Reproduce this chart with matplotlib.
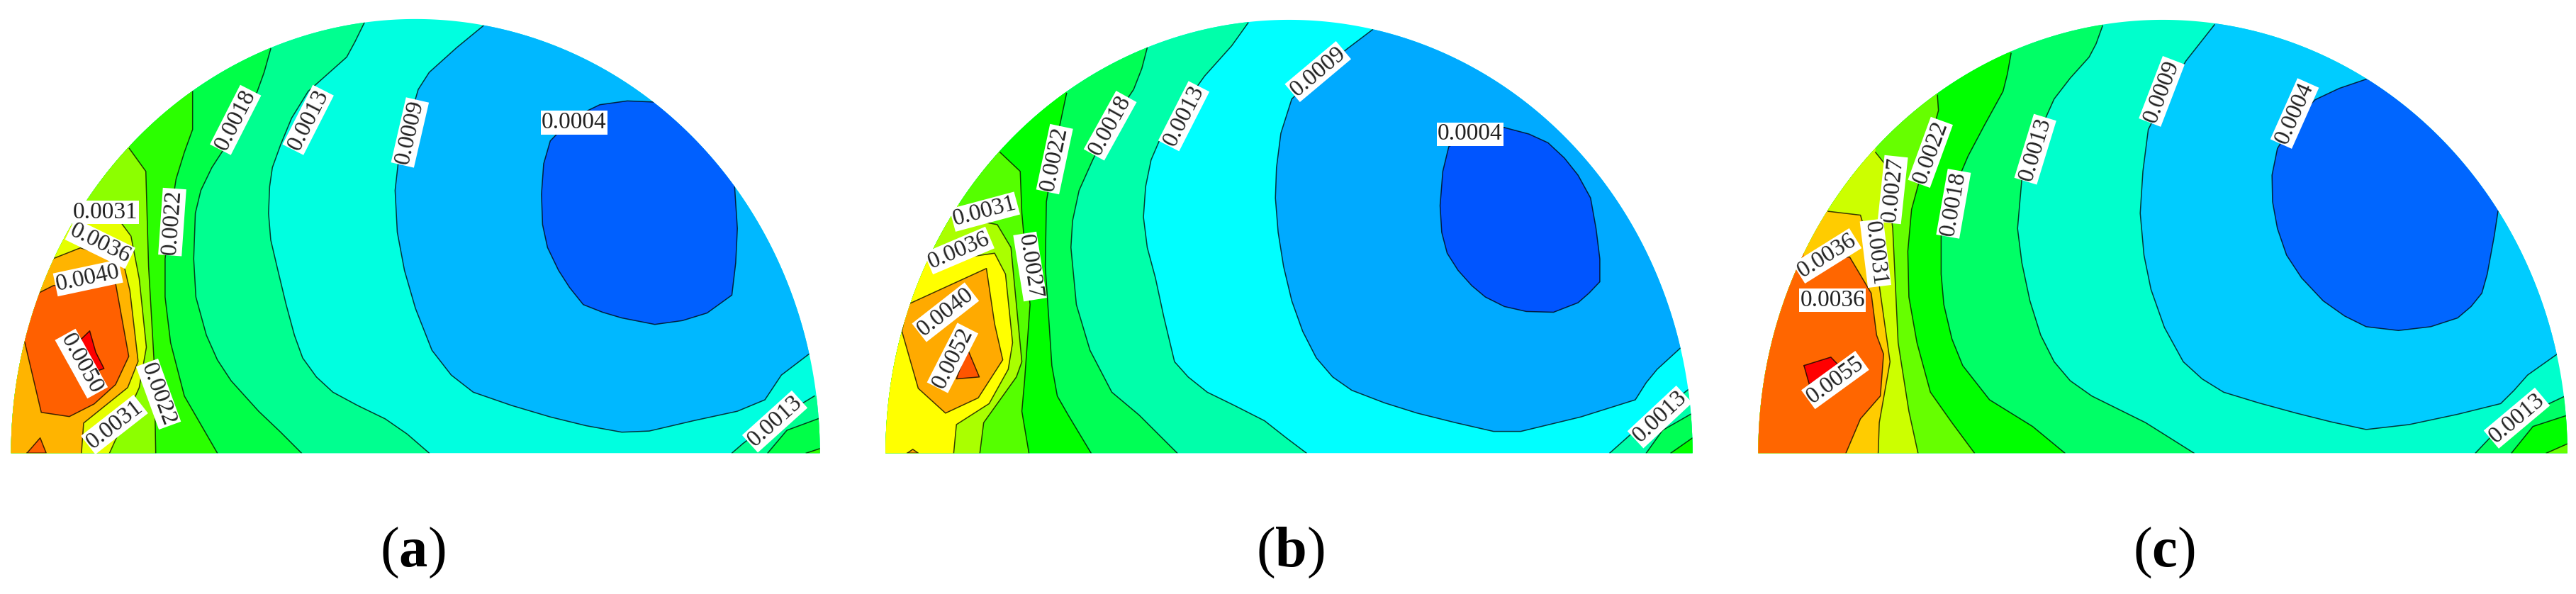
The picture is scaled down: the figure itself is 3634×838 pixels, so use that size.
import numpy as np
import matplotlib
matplotlib.use("Agg")
import matplotlib.pyplot as plt
from matplotlib.patches import Polygon

W, H = 3634, 838
plt.rcParams['font.family'] = ['Liberation Serif', 'DejaVu Sans']
plt.rcParams['mathtext.fontset'] = 'custom'
plt.rcParams['mathtext.bf'] = 'Liberation Serif:bold'

# ---- panel a: contour lines, top/edge -> baseline
a_0013 = [(662,60),(645,110),(630,150),(595,195),(560,240),(530,310),(510,380),(495,440),(490,490),(488,560),(492,630),(505,710),(520,800),(535,880),(550,940),(575,990),(605,1030),(650,1065),(700,1100),(740,1140),(780,1190)]
a_0018 = [(492,128),(480,190),(465,250),(430,340),(385,440),(365,500),(355,560),(352,680),(356,780),(375,880),(395,945),(420,1000),(470,1080),(510,1135),(548,1190)]
a_0022 = [(350,240),(350,340),(335,400),(320,470),(308,580),(300,680),(300,780),(310,900),(335,1040),(395,1190)]
a_0027 = [(235,390),(265,450),(270,700),(280,950),(283,1190)]
a_0031 = [(130,575),(219,583),(238,620),(253,732),(266,912),(253,1018),(199,1190)]
a_0036 = [(97,679),(146,651),(223,683),(236,763),(251,949),(232,1018),(152,1111),(148,1190)]
a_0040 = [(45,899),(75,1083),(126,1094),(171,1061),(210,1010),(234,936),(210,744),(97,750),(71,769)]
a_0009 = [(878,68),(830,125),(780,190),(760,235),(745,310),(725,410),(718,500),(722,610),(735,710),(755,810),(785,920),(820,985),(860,1030),(930,1065),(1000,1095),(1065,1118),(1130,1135),(1180,1132),(1260,1105),(1340,1080),(1390,1050),(1420,985),(1470,930)]
a_0004 = [(1190,268),(1140,265),(1090,275),(1040,310),(1000,370),(988,430),(984,510),(986,590),(995,650),(1015,710),(1035,755),(1060,800),(1095,820),(1130,835),(1190,852),(1240,842),(1285,822),(1330,775),(1337,690),(1340,600),(1335,490)]
a_low = [[(1330,1190),(1350,1165),(1400,1110),(1480,1040)], [(1395,1190),(1430,1130),(1490,1098)], [(1465,1190),(1490,1178)]]
a_spots = [[(49,1190),(73,1150),(84,1190)], [(148,890),(163,869),(174,925),(189,968),(139,992),(125,955)]]
a_left = [a_0013, a_0018, a_0022, a_0027, a_0031, a_0036]
a_colors = ['#00ffe0', '#00b8ff', '#0060ff', '#00ff90', '#00ff48', '#2bff00', '#8cff00', '#e6ff00', '#ffb400', '#ff6000']
a_spot_colors = ['#ff6000', '#ff0000']
a_texts = ['0.0004', '0.0009', '0.0013', '0.0018', '0.0022', '0.0031', '0.0036', '0.0040', '0.0050', '0.0022', '0.0031', '0.0013']
a_tx = [1043, 745, 560, 428, 313, 192, 182, 160, 148, 288, 208, 1408]
a_ty = [322, 348, 315, 315, 583, 558, 640, 730, 955, 1035, 1115, 1107]
a_rot = [0, 77, 63, 63, 86, 0, -26, 12, -61, -70, 38, 42]

# ---- panel b
b_0013 = [(690,60),(660,120),(610,200),(560,300),(530,360),(512,420),(502,490),(498,570),(505,650),(520,730),(535,830),(555,950),(580,990),(615,1030),(665,1065),(720,1105),(760,1150),(797,1190)]
b_0018 = [(505,125),(495,180),(480,235),(440,320),(405,420),(380,500),(368,580),(365,650),(375,800),(400,920),(440,1030),(490,1090),(525,1140),(560,1190)]
b_0022 = [(357,245),(340,360),(320,530),(318,700),(325,850),(330,960),(340,1040),(360,1090),(402,1190)]
b_0027 = [(235,400),(272,450),(275,560),(290,800),(280,1000),(275,1080),(288,1190)]
b_0031 = [(160,570),(230,590),(255,650),(265,800),(275,950),(265,990),(205,1110),(198,1190)]
b_0036 = [(105,690),(225,665),(245,720),(258,900),(250,970),(215,1060),(155,1115),(150,1190)]
b_0040 = [(65,800),(210,705),(225,850),(240,945),(195,1045),(135,1085),(85,1020),(55,870)]
b_0009 = [(918,78),(870,130),(820,190),(770,260),(750,350),(742,440),(740,520),(745,610),(755,700),(770,790),(790,870),(815,940),(845,990),(880,1025),(940,1058),(1000,1085),(1070,1110),(1140,1133),(1190,1133),(1300,1095),(1400,1050),(1420,1005),(1440,970),(1482,915)]
b_0004 = [(1160,335),(1205,352),(1240,375),(1270,415),(1295,460),(1318,520),(1328,600),(1335,680),(1335,740),(1315,770),(1295,795),(1250,820),(1200,818),(1160,805),(1125,780),(1100,750),(1075,710),(1055,665),(1045,610),(1042,540),(1047,450),(1058,385),(1100,350)]
b_low = [[(1353,1190),(1400,1130),(1500,1020)], [(1420,1190),(1450,1130),(1505,1085)], [(1465,1190),(1505,1150)]]
b_spots = [[(175,915),(197,990),(155,995)], [(65,1190),(75,1180),(85,1190)]]
b_left = [b_0013, b_0018, b_0022, b_0027, b_0031, b_0036]
b_colors = ['#00ffff', '#00aaff', '#0055ff', '#00ffaa', '#00ff55', '#00ff00', '#55ff00', '#aaff00', '#ffff00', '#ffaa00']
b_spot_colors = ['#ff5500', '#ffaa00']
b_texts = ['0.0004', '0.0009', '0.0013', '0.0018', '0.0022', '0.0031', '0.0036', '0.0027', '0.0040', '0.0052', '0.0013']
b_tx = [1097, 818, 572, 437, 335, 207, 160, 290, 135, 148, 1445]
b_ty = [352, 188, 305, 330, 418, 556, 658, 700, 820, 940, 1095]
b_rot = [0, 40, 63, 61, 78, 15, 23, -81, 38, 63, 43]

# ---- panel c
c_0013 = [(680,68),(668,115),(655,150),(620,205),(590,260),(555,370),(530,470),(522,600),(530,690),(545,790),(565,880),(590,950),(620,1000),(660,1040),(760,1110),(805,1150),(850,1190)]
c_0018 = [(510,140),(503,195),(495,240),(460,330),(430,410),(400,510),(380,620),(380,720),(385,800),(400,890),(420,960),(470,1050),(550,1120),(580,1155),(610,1190)]
c_0022 = [(373,250),(375,290),(350,420),(325,550),(318,660),(320,780),(335,900),(360,1030),(400,1110),(442,1190)]
c_0027 = [(258,400),(275,430),(290,600),(300,900),(320,1080),(337,1190)]
c_0031 = [(170,555),(230,565),(262,720),(285,950),(265,1110),(263,1190)]
c_0036 = [(125,680),(210,675),(250,770),(260,880),(273,930),(267,1040),(230,1100),(203,1190)]
c_0009 = [(888,65),(835,160),(790,270),(765,340),(755,450),(750,560),(757,670),(770,760),(795,860),(830,950),(865,995),(905,1030),(970,1058),(1040,1085),(1105,1108),(1170,1128),(1250,1115),(1340,1088),(1420,1060),(1445,1025),(1470,985),(1525,930)]
c_0004 = [(1170,208),(1120,232),(1075,262),(1035,320),(1005,390),(995,460),(996,530),(1005,600),(1022,670),(1050,730),(1090,790),(1130,830),(1170,858),(1230,868),(1290,858),(1340,835),(1365,805),(1385,770),(1395,720),(1408,620),(1415,555)]
c_low = [[(1373,1190),(1420,1120),(1540,1040)], [(1440,1190),(1480,1120),(1545,1090)], [(1505,1190),(1545,1165)]]
c_spots = [[(125,960),(175,938),(190,960),(135,1010)]]
c_left = [c_0013, c_0018, c_0022, c_0027, c_0031, c_0036]
c_colors = ['#00ffcc', '#00ccff', '#0066ff', '#00ff66', '#00ff00', '#66ff00', '#ccff00', '#ffcc00', '#ff6600']
c_spot_colors = ['#ff0000']
c_texts = ['0.0004', '0.0009', '0.0013', '0.0018', '0.0022', '0.0027', '0.0031', '0.0036', '0.0036', '0.0055', '0.0013']
c_tx = [1037, 790, 555, 403, 360, 290, 258, 168, 178, 183, 1450]
c_ty = [298, 240, 392, 535, 400, 498, 665, 672, 788, 998, 1098]
c_rot = [66, 69, 73, 80, 70, 84, -83, 32, 0, 36, 40]


def draw_panel(box, dome, left, right, inner, closed, low, spots, colors, spot_colors, tx, ty, texts, rot, letter, cap_x, cell=None):
    ax = fig.add_axes([box[0]/W, 0, (box[1]-box[0])/W, 1])
    ax.set_xlim(0, 1560); ax.set_ylim(1560, 0); ax.axis('off')
    th = np.linspace(0, np.pi, 300)
    cx, rx, top = dome
    outline = np.c_[cx+rx*np.cos(th), 1190-(1190-top)*np.sin(th)]
    clip = Polygon(outline, closed=True, fc=colors[0], ec='none', transform=ax.transData)
    ax.add_patch(clip)

    def band(pts, col):
        p = ax.fill(*zip(*pts), color=col, lw=0)[0]; p.set_clip_path(clip)

    def line(pts, close=False):
        pts = list(pts)+(pts[:1] if close else [])
        l, = ax.plot(*zip(*pts), color='k', alpha=0.75, lw=1.1); l.set_clip_path(clip)

    # right side regions
    band(list(right)+[(1700, right[-1][1]), (1700, -50), (right[0][0], -50)], colors[1])
    if closed:
        band(inner, colors[2])
    else:
        band(list(inner)+[(1700, inner[-1][1]), (1700, inner[0][1])], colors[2])
    line(right); line(inner, close=closed)
    # left side regions, one on top of the other
    for k, cl in enumerate(left):
        band(list(cl)+[(-50, 1300), (-50, -50), (cl[0][0], -50)], colors[3+k])
        line(cl)
    # small cell near the left edge
    if cell is not None:
        if letter == 'a':
            band(list(cell)+[(-50, cell[-1][1]), (-50, cell[0][1])], colors[9])
            line(cell)
        else:
            band(cell, colors[9])
            line(cell, close=True)
    # lower right corner
    for k, cl in enumerate(low):
        band(list(cl)+[(1700, cl[-1][1]), (1700, 1300), (cl[0][0], 1300)], colors[3+k])
        line(cl)
    for pts, col in zip(spots, spot_colors):
        band(pts, col); line(pts, close=True)
    for x, y, s, r in zip(tx, ty, texts, rot):
        ax.text(x, y, s, rotation=r, rotation_mode='anchor', ha='center', va='center', fontsize=24, color='#222222',
                bbox=dict(boxstyle='square,pad=0.04', fc='white', ec='none'), zorder=5)
    ax.text(cap_x, 1452, '('+r'$\mathbf{'+letter+'}$'+')', ha='center', va='center', fontsize=58, color='k')


fig = plt.figure(figsize=(W/100, H/100), dpi=100, facecolor='white')
draw_panel((0, 1211), (755, 735, 50), a_left, a_0009, a_0004, False, a_low, a_spots, a_colors, a_spot_colors, a_tx, a_ty, a_texts, a_rot, 'a', 750, cell=a_0040)
draw_panel((1230, 2430), (765, 740, 52), b_left, b_0009, b_0004, True, b_low, b_spots, b_colors, b_spot_colors, b_tx, b_ty, b_texts, b_rot, 'b', 767, cell=b_0040)
draw_panel((2450, 3634), (792, 752, 52), c_left, c_0009, c_0004, False, c_low, c_spots, c_colors, c_spot_colors, c_tx, c_ty, c_texts, c_rot, 'c', 795)
fig.savefig('out.png', dpi=100)
